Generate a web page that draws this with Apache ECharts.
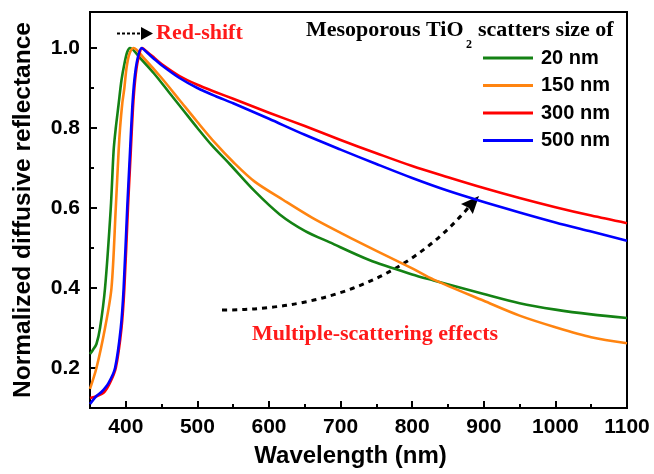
<!DOCTYPE html>
<html>
<head>
<meta charset="utf-8">
<script src="https://cdn.jsdelivr.net/npm/echarts@6/dist/echarts.min.js"></script>
<style>
  html, body { margin: 0; padding: 0; background: #fff; }
  #chart { width: 654px; height: 474px; }
</style>
</head>
<body>
<div id="chart"></div>
<script>
// data (wavelength in nm, normalized reflectance)
var wl20 = [350, 354, 359, 364, 371, 379, 383, 386, 390, 394, 398, 402, 406, 420, 440, 460, 480, 500, 520, 545, 580, 615, 650, 685, 740, 800, 830, 900, 950, 1000, 1050, 1100];
var r20 = [0.235, 0.245, 0.26, 0.3, 0.4, 0.6, 0.744, 0.8, 0.86, 0.92, 0.96, 0.99, 1.0, 0.975, 0.935, 0.89, 0.845, 0.8, 0.757, 0.71, 0.642, 0.584, 0.543, 0.514, 0.47, 0.434, 0.419, 0.385, 0.362, 0.346, 0.334, 0.325];

var wl150 = [350, 359, 371, 380, 386, 390, 392, 395, 398, 401, 405, 411, 425, 450, 475, 500, 525, 550, 580, 620, 660, 700, 750, 800, 830, 900, 950, 1000, 1050, 1100];
var r150 = [0.148, 0.2, 0.3, 0.4, 0.6, 0.744, 0.8, 0.86, 0.9, 0.95, 0.985, 1.0, 0.975, 0.925, 0.87, 0.815, 0.762, 0.715, 0.666, 0.62, 0.576, 0.538, 0.493, 0.449, 0.421, 0.368, 0.331, 0.302, 0.277, 0.262];

var wl300 = [350, 360, 370, 378, 386, 394, 398, 403, 407, 410, 413, 417, 423, 430, 440, 450, 475, 500, 525, 550, 600, 650, 700, 750, 800, 850, 900, 950, 1000, 1050, 1100];
var r300 = [0.125, 0.13, 0.14, 0.163, 0.2, 0.3, 0.4, 0.6, 0.744, 0.85, 0.92, 0.97, 1.0, 0.99, 0.975, 0.96, 0.93, 0.908, 0.89, 0.873, 0.838, 0.805, 0.77, 0.737, 0.705, 0.677, 0.65, 0.625, 0.602, 0.581, 0.562];

var wl500 = [350, 359, 366, 376, 385, 393, 397, 402, 406, 409, 412, 416, 422, 430, 440, 450, 475, 500, 525, 550, 600, 650, 700, 750, 800, 850, 900, 950, 1000, 1050, 1100];
var r500 = [0.11, 0.13, 0.14, 0.163, 0.2, 0.3, 0.4, 0.6, 0.744, 0.85, 0.92, 0.97, 1.0, 0.988, 0.972, 0.957, 0.925, 0.9, 0.88, 0.862, 0.823, 0.783, 0.746, 0.71, 0.675, 0.643, 0.615, 0.589, 0.564, 0.541, 0.518];

var sizeNames = ['20 nm', '150 nm', '300 nm', '500 nm'];
var sizeColors = ['#148214', '#ff8410', '#ff0000', '#0000ff'];

var xMajor = [400, 500, 600, 700, 800, 900, 1000, 1100];
var xMinor = [450, 550, 650, 750, 850, 950, 1050];
var yMajor = [0.2, 0.4, 0.6, 0.8, 1.0];
var yMinor = [0.3, 0.5, 0.7, 0.9];

function pairs(xs, ys) {
  var out = [];
  for (var i = 0; i < xs.length; i++) out.push([xs[i], ys[i]]);
  return out;
}

var sansFamily = '"Liberation Sans", Arial, sans-serif';
var serifBold = 'bold 22px "Liberation Serif", "Times New Roman", serif';

var chart = echarts.init(document.getElementById('chart'));

var allData = [pairs(wl20, r20), pairs(wl150, r150), pairs(wl300, r300), pairs(wl500, r500)];
var series = [];
for (var i = 0; i < sizeNames.length; i++) {
  series.push({
    name: sizeNames[i],
    type: 'line',
    data: allData[i],
    showSymbol: false,
    smooth: 0.3,
    lineStyle: { color: sizeColors[i], width: 2.6, join: 'round' },
    itemStyle: { color: sizeColors[i] },
    z: 2 + i
  });
}

var option = {
  animation: false,
  grid: {
    left: 90, right: 27, top: 12, bottom: 66,
    show: true, borderColor: '#000', borderWidth: 2, backgroundColor: 'transparent'
  },
  legend: {
    data: sizeNames,
    orient: 'vertical',
    left: 478,
    top: 42,
    icon: 'rect',
    itemWidth: 50,
    itemHeight: 3,
    itemGap: 5.5,
    textStyle: {
      fontFamily: sansFamily,
      fontWeight: 'bold',
      fontSize: 20,
      lineHeight: 22,
      color: '#000',
      padding: [0, 0, 0, 3]
    }
  },
  xAxis: [{
    type: 'value', min: 350, max: 1100,
    name: 'Wavelength (nm)',
    nameLocation: 'middle',
    nameGap: 36,
    nameTextStyle: { fontFamily: sansFamily, fontWeight: 'bold', fontSize: 24, color: '#000', padding: [0, 16, 0, 0] },
    axisLine: { lineStyle: { color: '#000', width: 2 } },
    axisTick: { inside: true, length: 7, customValues: xMajor, lineStyle: { color: '#000', width: 2 } },
    axisLabel: {
      customValues: xMajor, margin: 9, color: '#000',
      fontFamily: sansFamily, fontWeight: 'bold', fontSize: 21,
      formatter: function (v) { return String(v); }
    },
    splitLine: { show: false }
  }, {
    type: 'value', min: 350, max: 1100, position: 'bottom',
    axisLine: { show: false },
    axisTick: { inside: true, length: 4, customValues: xMinor, lineStyle: { color: '#000', width: 2 } },
    axisLabel: { show: false },
    splitLine: { show: false }
  }],
  yAxis: [{
    type: 'value', min: 0.1, max: 1.09,
    name: 'Normalized diffusive reflectance',
    nameLocation: 'middle',
    nameGap: 54,
    nameTextStyle: { fontFamily: sansFamily, fontWeight: 'bold', fontSize: 24.5, color: '#000' },
    axisLine: { lineStyle: { color: '#000', width: 2 } },
    axisTick: { inside: true, length: 7, customValues: yMajor, lineStyle: { color: '#000', width: 2 } },
    axisLabel: {
      customValues: yMajor, margin: 10, color: '#000',
      fontFamily: sansFamily, fontWeight: 'bold', fontSize: 21,
      formatter: function (v) { return v.toFixed(1); }
    },
    splitLine: { show: false }
  }, {
    type: 'value', min: 0.1, max: 1.09, position: 'left',
    axisLine: { show: false },
    axisTick: { inside: true, length: 4, customValues: yMinor, lineStyle: { color: '#000', width: 2 } },
    axisLabel: { show: false },
    splitLine: { show: false }
  }],
  series: series,
  graphic: [
    // legend heading with subscript 2
    { type: 'text', left: 306, top: 19, style: { text: 'Mesoporous TiO', font: serifBold, fill: '#000' } },
    { type: 'text', left: 466, top: 39, style: { text: '2', font: 'bold 12px "Liberation Serif", serif', fill: '#000' } },
    { type: 'text', left: 478, top: 19, style: { text: 'scatters size of', font: serifBold, fill: '#000' } },
    // red-shift arrow
    { type: 'line', shape: { x1: 117, y1: 33.5, x2: 141, y2: 33.5 }, style: { stroke: '#000', lineWidth: 2, lineDash: [3, 2] } },
    { type: 'polygon', shape: { points: [[141, 27], [153, 33.5], [141, 40]] }, style: { fill: '#000' } },
    { type: 'text', left: 156, top: 22, style: { text: 'Red-shift', font: serifBold, fill: '#ff1a1a' } },
    // multiple scattering arrow
    { type: 'bezierCurve', shape: { x1: 222, y1: 310, cpx1: 380, cpy1: 310, x2: 468, y2: 208 },
      style: { stroke: '#000', fill: 'none', lineWidth: 3, lineDash: [5, 5] } },
    { type: 'polygon', shape: { points: [[479, 196], [472.8, 214], [469, 208], [461, 204]] }, style: { fill: '#000' } },
    { type: 'text', left: 252, top: 323, style: { text: 'Multiple-scattering effects', font: serifBold, fill: '#ff1a1a' } }
  ]
};

chart.setOption(option);
</script>
</body>
</html>
